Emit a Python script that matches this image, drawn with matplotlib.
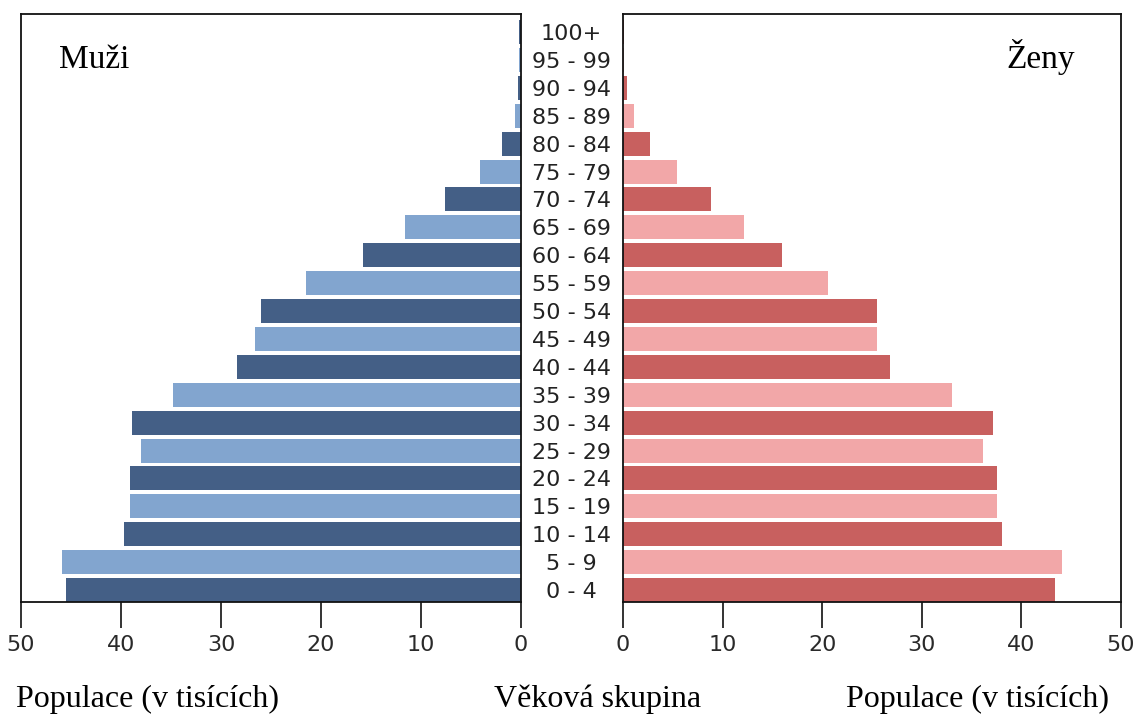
import matplotlib
matplotlib.use("Agg")
import matplotlib.pyplot as plt
import numpy as np

categories = ["0 - 4", "5 - 9", "10 - 14", "15 - 19", "20 - 24", "25 - 29", "30 - 34",
              "35 - 39", "40 - 44", "45 - 49", "50 - 54", "55 - 59", "60 - 64", "65 - 69",
              "70 - 74", "75 - 79", "80 - 84", "85 - 89", "90 - 94", "95 - 99", "100+"]
men = [45.5, 45.9, 39.7, 39.1, 39.1, 38.0, 38.9, 34.8, 28.4, 26.6, 26.0, 21.5, 15.8,
       11.6, 7.6, 4.1, 1.9, 0.6, 0.3, 0.2, 0.2]
women = [43.4, 44.1, 38.1, 37.5, 37.5, 36.1, 37.1, 33.0, 26.8, 25.5, 25.5, 20.6, 16.0,
         12.1, 8.8, 5.4, 2.7, 1.1, 0.4, 0.1, 0.15]
x_ticks = [0, 10, 20, 30, 40, 50]

men_colors = ["#445f86", "#82a5cf"]
women_colors = ["#c8605f", "#f2a7a8"]

W, H = 1133, 715
fig = plt.figure(figsize=(W / 100, H / 100), dpi=100)

def fx(px):
    return px / W

def fy(py):
    return 1 - py / H

ax_l = fig.add_axes([fx(21), fy(602), fx(521) - fx(21), fy(14) - fy(602)])
ax_r = fig.add_axes([fx(623), fy(602), fx(1121) - fx(623), fy(14) - fy(602)])

y = np.arange(len(categories))
mc = [men_colors[i % 2] for i in range(len(categories))]
wc = [women_colors[i % 2] for i in range(len(categories))]

ax_l.barh(y, men, height=0.86, color=mc)
ax_r.barh(y, women, height=0.86, color=wc)

ax_l.set_xlim(50, 0)
ax_r.set_xlim(0, 50)
for ax in (ax_l, ax_r):
    ax.set_ylim(-0.43, 20.65)
    ax.set_xticks(x_ticks)
    ax.set_xticklabels([str(t) for t in x_ticks])
    ax.tick_params(axis="x", direction="out", length=19, width=1.2, pad=5,
                   labelsize=16, labelcolor="#2a2a2a", color="#111111")
    for s in ax.spines.values():
        s.set_linewidth(1.3)
        s.set_color("#111111")

ax_l.set_yticks([])
ax_r.set_yticks(y)
ax_r.set_yticklabels(categories, ha="center", fontsize=16, color="#222222")
ax_r.tick_params(axis="y", length=0, pad=37)

serif = ["Liberation Serif", "DejaVu Serif"]
fig.text(fx(59), fy(68), "Muži", family=serif, fontsize=24, ha="left", va="baseline")
fig.text(fx(1075), fy(68), "Ženy", family=serif, fontsize=24, ha="right", va="baseline")
fig.text(fx(147), fy(707), "Populace (v tisících)", family=serif, fontsize=23,
         ha="center", va="baseline")
fig.text(fx(598), fy(707), "Věková skupina", family=serif, fontsize=23,
         ha="center", va="baseline")
fig.text(fx(978), fy(707), "Populace (v tisících)", family=serif, fontsize=23,
         ha="center", va="baseline")

fig.savefig("out.png", dpi=100)
